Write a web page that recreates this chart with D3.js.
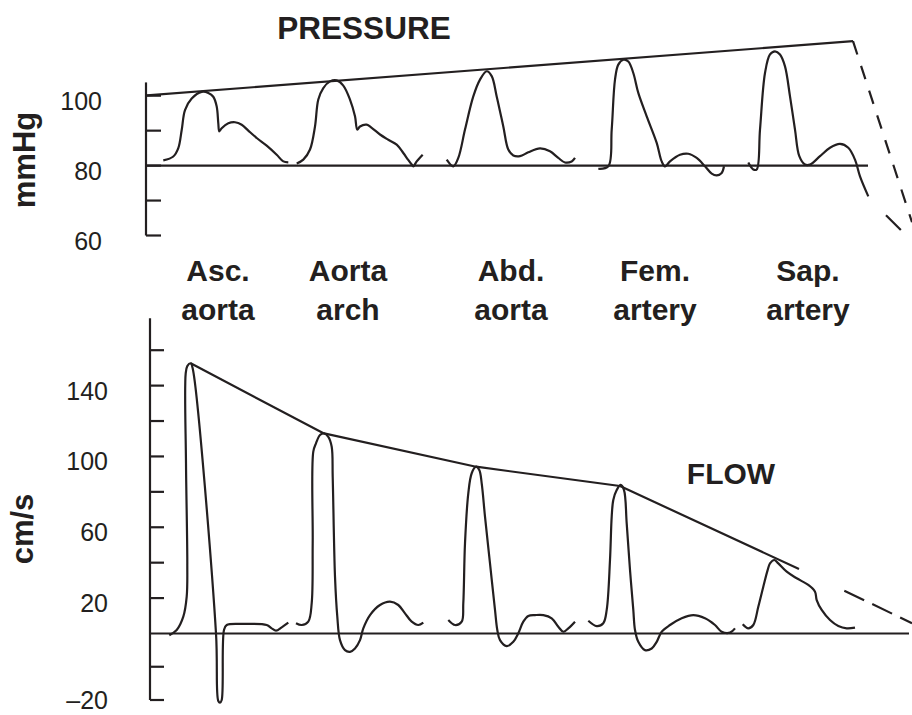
<!DOCTYPE html>
<html>
<head>
<meta charset="utf-8">
<script src="https://cdn.jsdelivr.net/npm/d3@7"></script>
<style>
  html, body { margin: 0; padding: 0; background: #ffffff; }
  svg { display: block; }
  text { font-family: "Liberation Sans", Arial, Helvetica, sans-serif; fill: #231f20; }
</style>
</head>
<body>
<svg id="chart" width="912" height="715"></svg>
<script>
// ---------------- DATA ----------------
// time axis: arbitrary units along the arterial tree (shared by both panels)
const sitesLine1 = ["Asc.", "Aorta", "Abd.", "Fem.", "Sap."];
const sitesLine2 = ["aorta", "arch", "aorta", "artery", "artery"];

const pressureTicks = [100, 90, 80, 70, 60];
const pressureTickLabels = [100, 80, 60];
const flowTicks = [160, 140, 120, 100, 80, 60, 40, 20, -10, -20];
const flowTickLabels = [140, 100, 60, 20, -20];

// Pressure waveforms [time, mmHg]
const pAscAorta = [[17.3,81.5],[27.3,82.6],[32.3,85.0],[35.7,90.2],[39,95.9],[45.7,99.2],[55.7,101.1],[62.3,100.8],[67.3,99.7],[70.7,96.9],[72.3,92.1],[73.3,89.8],[75.7,90.7],[82.3,92.1],[89,92.4],[95.7,91.7],[102.3,90.0],[110.7,87.9],[120.7,85.7],[130.7,83.1],[137.3,81.2],[142.3,80.9]];
const pAortaArch = [[150.7,80.6],[157.3,81.7],[164,84.6],[169,91.2],[172.3,98.9],[177.3,102.2],[184,104.1],[190.7,104.4],[197.3,102.9],[204,98.9],[209,94.1],[211.3,90.3],[214,91.2],[220.7,91.7],[225.7,90.8],[234,88.9],[242.3,87.4],[250.7,86.0],[257.3,83.6],[262,81.7],[265.7,80.3],[267.3,79.8],[270.7,81.2],[276.7,83.1]];
const pAbdAorta = [[300.7,81.7],[307.3,79.8],[312.3,82.2],[319,90.3],[327.3,99.8],[334,104.6],[340.7,107.0],[345.7,105.6],[350.7,99.8],[357.3,91.2],[362.3,84.6],[367.3,82.9],[374,82.7],[382.3,83.8],[394,84.9],[404,84.1],[412.3,82.2],[419,80.9],[425.7,81.2],[429,82.2]];
const pFemArtery = [[452.3,79.1],[462.3,79.8],[465.7,90.3],[469,104.6],[472.3,108.9],[477.3,110.3],[482.3,109.8],[487.3,106.5],[492.3,100.8],[500.7,94.1],[510.7,86.5],[515.7,81.2],[519,79.8],[524,81.2],[534,83.1],[542.3,83.4],[550.7,82.2],[559,79.8],[565.7,77.7],[570.7,77.2],[575.7,77.9],[578,79.8]];
const pSapArtery = [[602.3,80.9],[607.3,78.9],[610.7,78.9],[614,90.3],[619,106.5],[624,111.8],[629,112.7],[634,111.8],[639,108.4],[644,99.8],[649,90.3],[653.3,82.7],[659,80.3],[664,80.3],[674,82.7],[684,85.1],[694,86.2],[702.3,85.1],[709,81.7],[714,76.9],[722.3,71.2]];
const pressureEnvelope = [[1,100.1],[707,115.6]];
const pressureEnvelopeDashed = [[707,115.6],[766,63.8]];
const pressureDropDashed = [[740,65.8],[770,57.2]];
const pressureBaseline = [[0,80],[722,80]];

// Flow waveforms [time, cm/s]
const fAscAorta = [[23.3,-0.5],[30.7,2.0],[37.3,9.5],[40.7,20.8],[41.3,39.6],[40,96.1],[39.7,146.9],[41.3,151.0],[44.7,152.6],[46.7,149.7],[70,0.1],[72.3,-20.3],[74,-20.8],[75.7,-20],[78,2.0],[80.7,4.8],[97.3,5.4],[120.7,4.8],[125.7,2.9],[130,1.6],[135.7,3.5],[142.3,6.1]];
const fAortaArch = [[150,5.8],[155.7,4.8],[162.3,6.7],[165.7,17.1],[166.7,50.9],[167.3,102.7],[170,107.4],[174,112.1],[178,113.0],[182.3,111.1],[185.7,105.5],[186.7,88.5],[189,32.1],[191.3,9.5],[194,-2.0],[199,-5.0],[204,-5.5],[209,-4.5],[214,-2.0],[217.3,2.9],[224,10.4],[234,16.1],[244,18.0],[252.3,16.1],[259,11.4],[265.7,6.7],[272.3,4.8],[277.3,6.1]];
const fAbdAorta = [[302.3,7.6],[309,4.8],[315.7,6.7],[317.3,17.1],[319,50.9],[322.3,79.2],[325.7,90.5],[330,94.2],[333.3,92.3],[335.7,84.8],[339,66.0],[344,39.6],[349,13.3],[351.3,2.0],[354,-2.0],[360.7,-3.8],[367.3,-2.5],[372.3,0.1],[377.3,6.7],[382.3,9.9],[389,10.4],[397.3,10.4],[405.7,8.6],[412.3,3.8],[417.3,1.0],[422.3,2.9],[429,6.7]];
const fFemArtery = [[442.3,7.2],[450.7,4.2],[457.3,5.8],[460.7,13.3],[464,41.5],[465.7,66.0],[467.3,75.4],[470.7,81.0],[474.7,83.9],[478,81.0],[480.7,62.2],[484,35.9],[487.3,13.3],[489,2.0],[492.3,-2.5],[499,-5.0],[505.7,-4.5],[510.7,-2.5],[515.7,1.0],[524,4.8],[535.7,8.6],[547.3,10.4],[559,8.6],[569,4.8],[575.7,1.0],[584,0.5],[589,2.9]];
const fSapArtery = [[596.7,5.2],[602.3,2.9],[607.3,4.8],[612.3,15.1],[617.3,26.4],[621.7,35.9],[624,39.6],[628.3,41.5],[632.3,39.6],[640.7,34.9],[650.7,31.2],[662.3,27.4],[669,23.6],[670.7,18.9],[675.7,13.3],[684,7.6],[692.3,4.2],[700.7,2.9],[709,3.3]];
const flowEnvelope = [[44.7,152.6],[177,113.2],[330,94.2],[474,83.3],[653,36.4]];
const flowEnvelopeDashed = [[698.3,24.2],[766,5.8]];
const flowBaseline = [[4,0],[763,0]];

// ---------------- LAYOUT ----------------
const ink = "#231f20";
const svg = d3.select("#chart");

const x = d3.scaleLinear().domain([0, 766]).range([146, 912]);
const yP = d3.scaleLinear().domain([60, 100]).range([235.5, 95.7]);
const yF = d3.scaleLinear().domain([-20, 0, 160]).range([700, 633.5, 350.2]);

const lineP = d3.line().x(d => x(d[0])).y(d => yP(d[1]));
const lineF = d3.line().x(d => x(d[0])).y(d => yF(d[1]));
const waveP = d3.line().x(d => x(d[0])).y(d => yP(d[1])).curve(d3.curveCatmullRom.alpha(0.5));
const waveF = d3.line().x(d => x(d[0])).y(d => yF(d[1])).curve(d3.curveCatmullRom.alpha(0.5));

const g = svg.append("g").attr("fill", "none").attr("stroke", ink)
  .attr("stroke-width", 2.2).attr("stroke-linejoin", "round").attr("stroke-linecap", "butt");

// ---- Pressure panel ----
const pAxisX = x(0);
g.append("line").attr("x1", pAxisX).attr("x2", pAxisX).attr("y1", yP(103.8)).attr("y2", yP(60));
g.selectAll(".ptick").data(pressureTicks).join("line")
  .attr("x1", pAxisX).attr("x2", pAxisX + 15)
  .attr("y1", d => yP(d)).attr("y2", d => yP(d));
svg.selectAll(".plabel").data(pressureTickLabels).join("text")
  .attr("x", 102).attr("y", d => yP(d) + 14.5)
  .attr("text-anchor", "end").attr("font-size", 25).text(d => d);

g.append("path").attr("d", lineP(pressureBaseline));
g.append("path").attr("d", lineP(pressureEnvelope));
g.append("path").attr("d", lineP(pressureEnvelopeDashed)).attr("stroke-dasharray", "14,12");
g.append("path").attr("d", lineP(pressureDropDashed)).attr("stroke-dasharray", "21,20");
[pAscAorta, pAortaArch, pAbdAorta, pFemArtery, pSapArtery].forEach(s => {
  g.append("path").attr("d", waveP(s));
});

// ---- Flow panel ----
const fAxisX = x(4);
g.append("line").attr("x1", fAxisX).attr("x2", fAxisX).attr("y1", yF(178)).attr("y2", yF(-20));
g.selectAll(".ftick").data(flowTicks).join("line")
  .attr("x1", fAxisX).attr("x2", fAxisX + 14)
  .attr("y1", d => yF(d)).attr("y2", d => yF(d));
svg.selectAll(".flabel").data(flowTickLabels).join("text")
  .attr("x", 108).attr("y", d => yF(d) + (d < 0 ? 9 : 14))
  .attr("text-anchor", "end").attr("font-size", 25)
  .text(d => d < 0 ? "\u2013" + Math.abs(d) : d);

g.append("path").attr("d", lineF(flowBaseline));
g.append("path").attr("d", lineF(flowEnvelope));
g.append("path").attr("d", lineF(flowEnvelopeDashed)).attr("stroke-dasharray", "22,9");
[fAscAorta, fAortaArch, fAbdAorta, fFemArtery, fSapArtery].forEach(s => {
  g.append("path").attr("d", waveF(s));
});

// ---- Titles & labels ----
svg.append("text").attr("x", 364).attr("y", 39).attr("text-anchor", "middle")
  .attr("font-size", 31.5).attr("font-weight", "bold").text("PRESSURE");
svg.append("text").attr("x", 731).attr("y", 483.5).attr("text-anchor", "middle")
  .attr("font-size", 30).attr("font-weight", "bold").text("FLOW");
svg.append("text").attr("transform", "translate(35,160) rotate(-90)").attr("text-anchor", "middle")
  .attr("font-size", 31).attr("font-weight", "bold").text("mmHg");
svg.append("text").attr("transform", "translate(33,529) rotate(-90)").attr("text-anchor", "middle")
  .attr("font-size", 31).attr("font-weight", "bold").text("cm/s");

const labelCenters = [218, 348, 511, 655, 808];
sitesLine1.forEach((t, i) => {
  svg.append("text").attr("x", labelCenters[i]).attr("y", 281).attr("text-anchor", "middle")
    .attr("font-size", 30).attr("font-weight", "bold").text(t);
  svg.append("text").attr("x", labelCenters[i]).attr("y", 320).attr("text-anchor", "middle")
    .attr("font-size", 30).attr("font-weight", "bold").text(sitesLine2[i]);
});
</script>
</body>
</html>
